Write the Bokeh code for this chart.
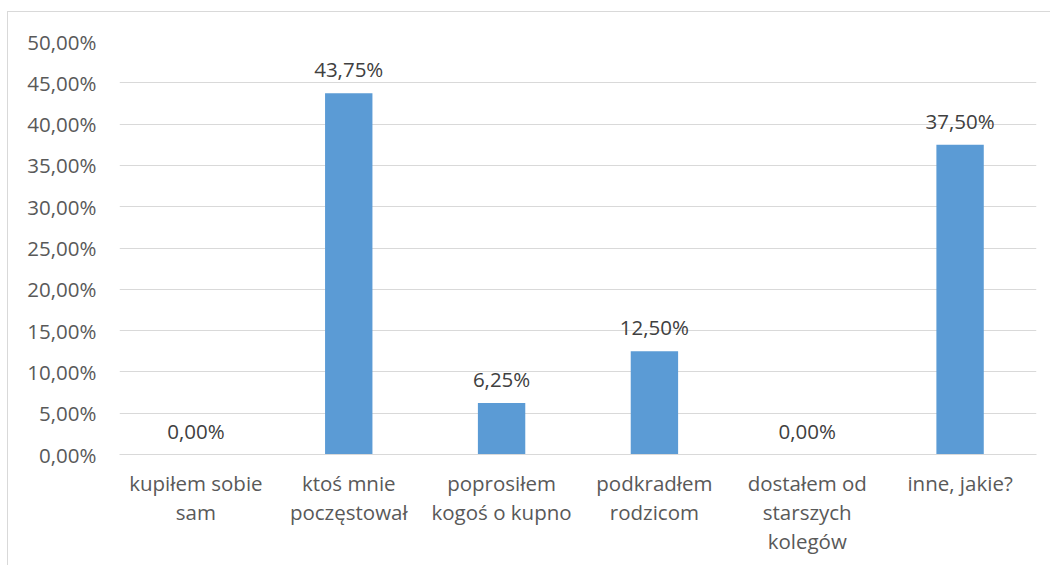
from bokeh.plotting import figure
from bokeh.models import FactorRange, FixedTicker, ColumnDataSource, Range1d
from bokeh.core.properties import value
from bokeh.embed import file_html
from bokeh.resources import INLINE

categories = ["kupiłem sobie\nsam", "ktoś mnie\npoczęstował", "poprosiłem\nkogoś o kupno",
              "podkradłem\nrodzicom", "dostałem od\nstarszych\nkolegów", "inne, jakie?"]
values = [0.0, 43.75, 6.25, 12.5, 0.0, 37.5]
y_ticks = [0, 5, 10, 15, 20, 25, 30, 35, 40, 45, 50]

def pct(v):
    return f"{v:.2f}".replace(".", ",") + "%"

labels = [pct(v) for v in values]
src = ColumnDataSource(dict(x=categories, top=values, label=labels))

FONT = "Open Sans"
FS = "20.5px"

p = figure(x_range=FactorRange(factors=categories, range_padding=0),
           y_range=Range1d(0, 50),
           width=1043, height=554, output_backend="svg", toolbar_location=None,
           min_border_left=111, min_border_right=15, min_border_top=29, min_border_bottom=112)
p.styles = {"margin-left": "7px", "margin-top": "11px",
            "border-left": "1px solid #d9d9d9", "border-top": "1px solid #d9d9d9"}
p.outline_line_color = None
p.background_fill_color = "white"
p.border_fill_color = "white"

p.vbar(x="x", top="top", width=0.31, source=src, fill_color="#5b9bd5", line_color=None)
p.text(x="x", y="top", text="label", source=src, text_align="center",
       text_baseline="alphabetic", y_offset=-24, text_font=value(FONT),
       text_font_size=FS, text_color="#404040")

p.xgrid.visible = False
p.ygrid.grid_line_color = "#d9d9d9"
p.ygrid.grid_line_width = 1

p.yaxis.ticker = FixedTicker(ticks=y_ticks)
p.yaxis.major_label_overrides = {t: pct(t) for t in y_ticks}
p.yaxis.axis_line_color = None
p.yaxis.major_tick_line_color = None
p.yaxis.minor_tick_line_color = None
p.yaxis.major_tick_out = 0
p.yaxis.major_tick_in = 0
p.yaxis.minor_tick_out = 0
p.yaxis.major_label_standoff = 23
p.yaxis.major_label_text_font = FONT
p.yaxis.major_label_text_font_size = FS
p.yaxis.major_label_text_color = "#595959"

p.xaxis.axis_line_color = "#d9d9d9"
p.xaxis.major_tick_line_color = None
p.xaxis.minor_tick_line_color = None
p.xaxis.major_tick_out = 0
p.xaxis.major_tick_in = 0
p.xaxis.major_label_standoff = 14
p.xaxis.major_label_text_font = FONT
p.xaxis.major_label_text_font_size = FS
p.xaxis.major_label_text_color = "#595959"
p.xaxis.major_label_text_line_height = 1.05
p.xaxis.major_label_orientation = "horizontal"

open("out.html", "w").write(file_html(p, INLINE))
